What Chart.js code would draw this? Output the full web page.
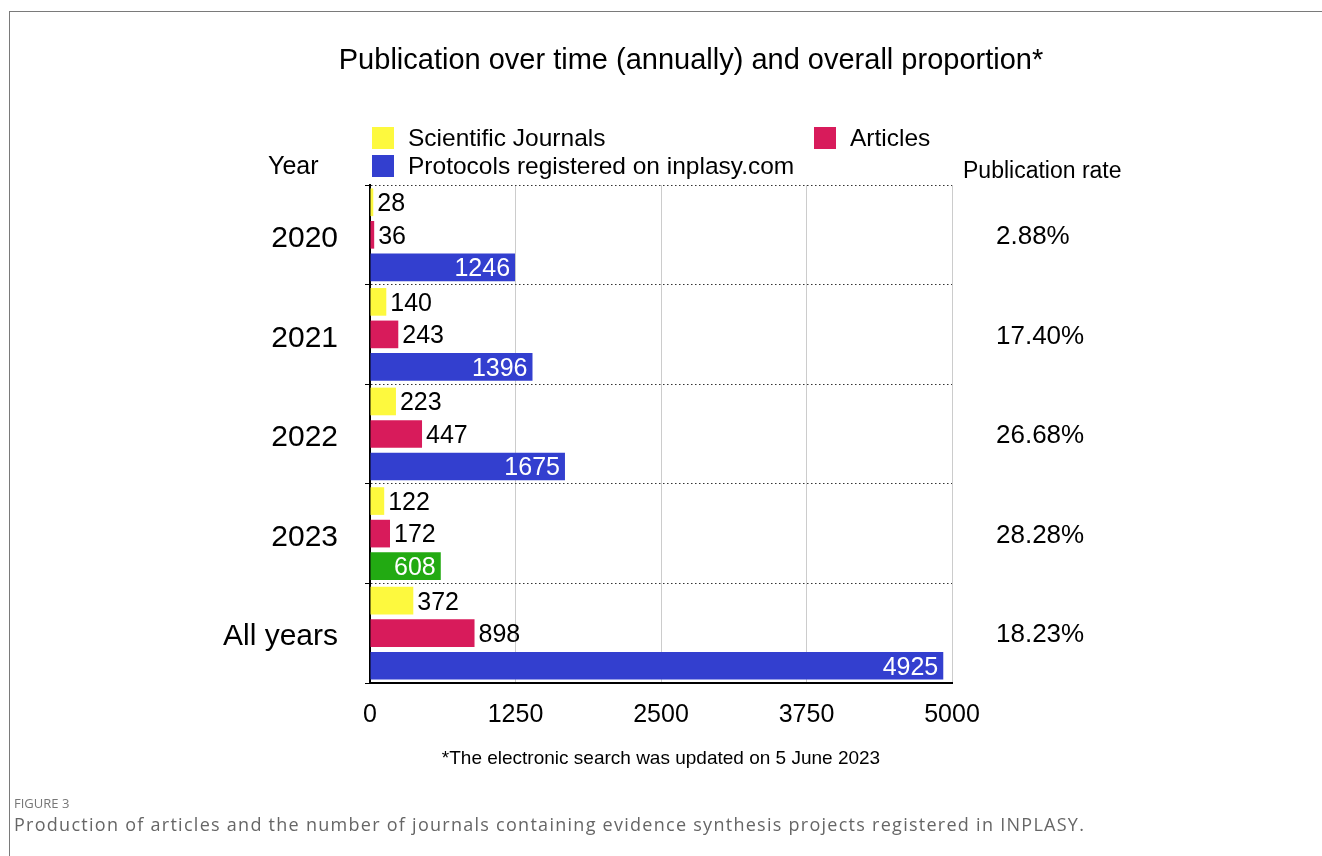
<!DOCTYPE html>
<html>
<head>
<meta charset="utf-8">
<script src="https://cdn.jsdelivr.net/npm/chart.js@4.4.0/dist/chart.umd.min.js"></script>
<style>
  html, body { margin: 0; padding: 0; background: #fff; }
  body { width: 1322px; height: 856px; position: relative; overflow: hidden; }
  #frame { position: absolute; left: 9px; top: 11px; right: 0; bottom: 0; border-top: 1px solid #7a7a7a; border-left: 1px solid #7a7a7a; }
  #chart { position: absolute; left: 0; top: 0; }
  #figlabel { position: absolute; left: 14px; top: 794px; font: 13px "Open Sans"; color: #777; }
  #caption { position: absolute; left: 14px; top: 812px; font: 18px "Open Sans"; letter-spacing: 1.27px; color: #666; white-space: nowrap; }
</style>
</head>
<body>
<div id="frame"></div>
<canvas id="chart" width="1322" height="856"></canvas>
<div id="figlabel">FIGURE 3</div>
<div id="caption">Production of articles and the number of journals containing evidence synthesis projects registered in INPLASY.</div>
<script>
// datos del grafico
const years = ["2020", "2021", "2022", "2023", "All years"];
const journals = [28, 140, 223, 122, 372];
const articles = [36, 243, 447, 172, 898];
const protocols = [1246, 1396, 1675, 608, 4925];
const pubRates = ["2.88%", "17.40%", "26.68%", "28.28%", "18.23%"];
const xTicks = [0, 1250, 2500, 3750, 5000];

const YELLOW = "#fdf93e";
const RED = "#d81b5b";
const BLUE = "#333fcf";
const GREEN = "#22aa12";
const FONT = "'Liberation Sans', Arial, sans-serif";

// 2023 va en verde
const protocolColors = years.map(y => y === "2023" ? GREEN : BLUE);

// numeros en las barras
const valueLabels = {
  id: "valueLabels",
  afterDatasetsDraw(chart) {
    const ctx = chart.ctx;
    ctx.save();
    ctx.font = "25px " + FONT;
    ctx.textBaseline = "middle";
    chart.data.datasets.forEach((ds, di) => {
      chart.getDatasetMeta(di).data.forEach((bar, i) => {
        const v = String(ds.data[i]);
        if (di === 2) {
          ctx.fillStyle = "#fff";
          ctx.textAlign = "right";
          ctx.fillText(v, bar.x - 5, bar.y + 2);
        } else {
          ctx.fillStyle = "#000";
          ctx.textAlign = "left";
          ctx.fillText(v, bar.x + 4, bar.y + 2);
        }
      });
    });
    ctx.restore();
  }
};

// titulo, leyenda y textos de cabecera
const headerTexts = {
  id: "headerTexts",
  afterDraw(chart) {
    const ctx = chart.ctx;
    const ds = chart.data.datasets;
    ctx.save();
    ctx.fillStyle = "#000";
    ctx.textBaseline = "middle";

    ctx.font = "29px " + FONT;
    ctx.textAlign = "center";
    ctx.fillText("Publication over time (annually) and overall proportion*", 691, 61);

    // leyenda
    const items = [
      { label: ds[0].label, color: ds[0].backgroundColor, x: 372, y: 127 },
      { label: ds[1].label, color: ds[1].backgroundColor, x: 814, y: 127 },
      { label: ds[2].label, color: BLUE, x: 372, y: 155 }
    ];
    ctx.font = "24.5px " + FONT;
    ctx.textAlign = "left";
    items.forEach(it => {
      ctx.fillStyle = it.color;
      ctx.fillRect(it.x, it.y, 22, 22);
      ctx.fillStyle = "#000";
      ctx.fillText(it.label, it.x + 36, it.y + 12);
    });

    ctx.font = "25px " + FONT;
    ctx.fillText("Year", 268, 167);
    ctx.font = "23px " + FONT;
    ctx.fillText("Publication rate", 963, 172);

    ctx.font = "19px " + FONT;
    ctx.textAlign = "center";
    ctx.fillText("*The electronic search was updated on 5 June 2023", 661, 759);
    ctx.restore();
  }
};

new Chart(document.getElementById("chart"), {
  type: "bar",
  data: {
    labels: years,
    datasets: [
      { label: "Scientific Journals", data: journals, backgroundColor: YELLOW },
      { label: "Articles", data: articles, backgroundColor: RED },
      { label: "Protocols registered on inplasy.com", data: protocols, backgroundColor: protocolColors }
    ]
  },
  options: {
    indexAxis: "y",
    responsive: false,
    animation: false,
    devicePixelRatio: 1,
    categoryPercentage: 0.98,
    barPercentage: 0.85,
    layout: { padding: { top: 185, left: 0, right: 0, bottom: 0 } },
    plugins: {
      legend: { display: false },
      title: { display: false },
      tooltip: { enabled: false }
    },
    scales: {
      x: {
        min: 0,
        max: 5000,
        afterBuildTicks: scale => { scale.ticks = xTicks.map(v => ({ value: v })); },
        afterFit: scale => { scale.height = 173; },
        grid: { color: "#cccccc", lineWidth: 1, drawTicks: false },
        border: { color: "#000", width: 2 },
        ticks: {
          padding: 17,
          color: "#000",
          font: { family: FONT, size: 25 },
          callback: v => String(v)
        }
      },
      y: {
        afterFit: scale => { scale.width = 370; },
        grid: { color: "#333", lineWidth: 1, tickLength: 5, tickColor: "#000", offset: true },
        border: { color: "#000", width: 2, dash: [1.5, 2.5] },
        ticks: {
          padding: 27,
          labelOffset: 4,
          color: "#000",
          font: { family: FONT, size: 30 }
        }
      },
      y2: {
        type: "category",
        labels: pubRates,
        position: "right",
        offset: true,
        afterFit: scale => { scale.width = 370; },
        grid: { display: false, drawTicks: false },
        border: { display: false },
        ticks: {
          padding: 44,
          labelOffset: 2,
          color: "#000",
          font: { family: FONT, size: 26 }
        }
      }
    }
  },
  plugins: [valueLabels, headerTexts]
});
</script>
</body>
</html>
